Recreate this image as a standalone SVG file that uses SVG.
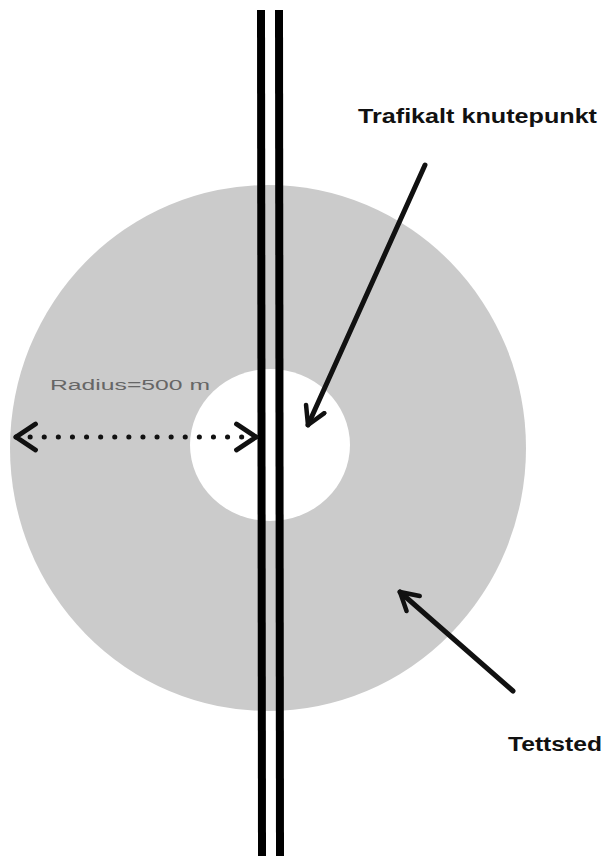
<svg xmlns="http://www.w3.org/2000/svg" width="608" height="856" viewBox="0 0 608 856">
<style>
.lbl{font-family:"Liberation Sans",Arial,sans-serif;font-weight:bold;font-size:20px;fill:#111}
.rad{font-family:"Liberation Sans",Arial,sans-serif;font-size:14px;fill:#666}
.arrow{stroke:#111;stroke-width:5;fill:none;stroke-linecap:round}
.road{stroke:#000;stroke-width:8;fill:none}
</style>
<defs>
<marker id="head" viewBox="0 0 10 10" refX="8" refY="5" markerWidth="5" markerHeight="5" orient="auto" markerUnits="strokeWidth">
<path d="M1,1 L8,5 L1,9" fill="none" stroke="#111" stroke-width="1.8" stroke-linecap="round" stroke-linejoin="round"/>
</marker>
<marker id="chev" viewBox="0 0 10 10" refX="8" refY="5" markerWidth="6.5" markerHeight="6.5" orient="auto-start-reverse" markerUnits="strokeWidth">
<path d="M2,1 L8,5 L2,9" fill="none" stroke="#111" stroke-width="1.5" stroke-linecap="round" stroke-linejoin="round"/>
</marker>
</defs>
<rect width="608" height="856" fill="#fff"/>
<g id="tettsted">
<ellipse cx="268" cy="448" rx="258" ry="263" fill="#cbcbcb"/>
</g>
<g id="knutepunkt">
<ellipse cx="270" cy="445" rx="80" ry="76" fill="#fff"/>
</g>
<g id="road">
<line class="road" x1="261" y1="10" x2="262" y2="856"/>
<line class="road" x1="279" y1="10" x2="280" y2="856"/>
</g>
<g id="connectors">
<line class="arrow" x1="425" y1="165" x2="308" y2="425" marker-end="url(#head)"/>
<line class="arrow" x1="513" y1="691" x2="400" y2="592" marker-end="url(#head)"/>
<line x1="16" y1="437" x2="256" y2="437" stroke="#111" stroke-width="5" stroke-linecap="round" stroke-dasharray="0.1 14" marker-start="url(#chev)" marker-end="url(#chev)"/>
</g>
<g id="labels">
<text class="lbl" x="358" y="123" textLength="239" lengthAdjust="spacingAndGlyphs">Trafikalt knutepunkt</text>
<text class="lbl" x="508" y="751" textLength="94" lengthAdjust="spacingAndGlyphs">Tettsted</text>
<text class="rad" x="50" y="390" textLength="160" lengthAdjust="spacingAndGlyphs">Radius=500 m</text>
</g>
</svg>
